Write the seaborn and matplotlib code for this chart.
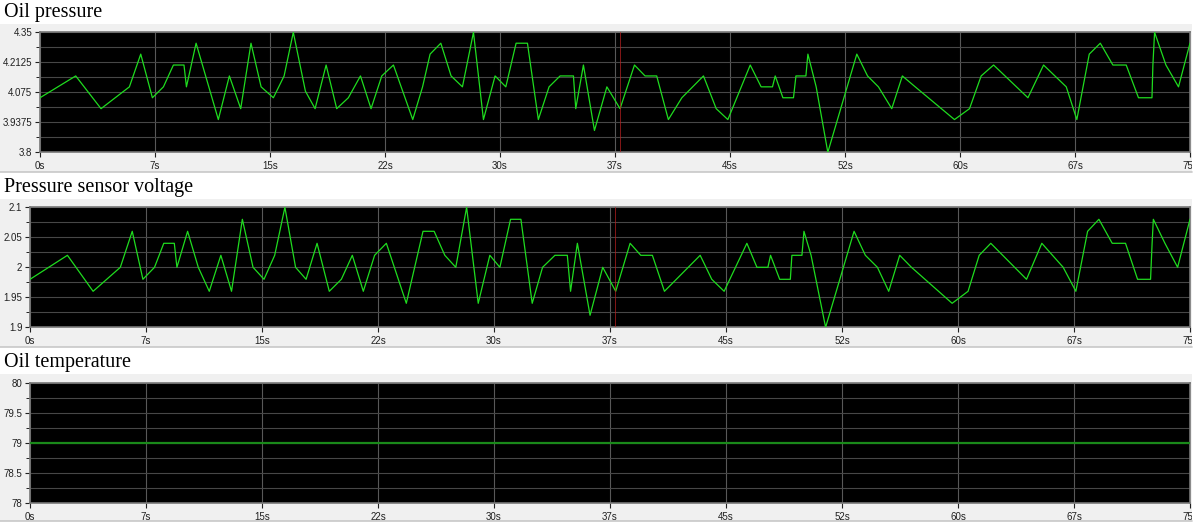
import numpy as np
import pandas as pd
import matplotlib
matplotlib.use("Agg")
import matplotlib.pyplot as plt
import seaborn as sns
from matplotlib.patches import Rectangle
from matplotlib.lines import Line2D
from matplotlib.transforms import Bbox, TransformedBbox

# ---- data ----
press_time = [
    0.00, 2.33, 3.98, 5.83, 6.57, 7.33, 8.05, 8.70, 9.39, 9.55,
    10.18, 11.63, 12.35, 13.09, 13.76, 14.42, 15.22, 15.92, 16.52, 17.31,
    17.94, 18.66, 19.35, 20.11, 20.90, 21.59, 22.29, 23.05, 24.31, 24.95,
    25.44, 26.14, 26.81, 27.55, 28.27, 28.92, 29.68, 30.38, 31.05, 31.79,
    32.50, 33.20, 33.92, 34.79, 34.94, 35.44, 36.16, 36.97, 37.83, 38.77,
    39.46, 40.22, 40.98, 41.86, 43.27, 44.10, 44.86, 46.32, 47.03, 47.77,
    47.95, 48.45, 49.14, 49.30, 49.95, 50.08, 50.62, 51.38, 53.27, 53.97,
    54.68, 55.55, 56.24, 57.08, 59.64, 60.62, 61.38, 62.19, 64.43, 65.45,
    66.93, 67.62, 68.43, 69.15, 69.97, 70.84, 71.64, 72.52, 72.58, 72.69,
    73.43, 74.25, 75.00,
]
oil_pressure = [
    4.05, 4.15, 4.00, 4.10, 4.25, 4.05, 4.10, 4.20, 4.20, 4.10,
    4.30, 3.95, 4.15, 4.00, 4.30, 4.10, 4.05, 4.15, 4.35, 4.08,
    4.00, 4.20, 4.00, 4.05, 4.15, 4.00, 4.15, 4.20, 3.95, 4.10,
    4.25, 4.30, 4.15, 4.10, 4.35, 3.95, 4.15, 4.10, 4.30, 4.30,
    3.95, 4.10, 4.15, 4.15, 4.00, 4.20, 3.90, 4.10, 4.00, 4.20,
    4.15, 4.15, 3.95, 4.05, 4.15, 4.00, 3.95, 4.20, 4.10, 4.10,
    4.15, 4.05, 4.05, 4.15, 4.15, 4.25, 4.10, 3.80, 4.25, 4.15,
    4.10, 4.00, 4.15, 4.10, 3.95, 4.00, 4.15, 4.20, 4.05, 4.20,
    4.10, 3.95, 4.25, 4.30, 4.20, 4.20, 4.05, 4.05, 4.20, 4.35,
    4.20, 4.10, 4.30,
]

volt_time = [
    0.00, 2.42, 4.08, 5.84, 6.61, 7.30, 8.05, 8.65, 9.33, 9.50,
    10.19, 10.88, 11.59, 12.34, 13.03, 13.73, 14.42, 15.13, 15.82, 16.48,
    17.17, 17.85, 18.56, 19.35, 20.13, 20.84, 21.55, 22.28, 23.04, 24.33,
    25.41, 26.13, 26.82, 27.53, 28.23, 28.98, 29.73, 30.38, 31.07, 31.74,
    32.47, 33.14, 33.94, 34.74, 34.95, 35.39, 36.21, 37.03, 37.87, 38.80,
    39.49, 40.24, 41.02, 43.33, 44.08, 44.88, 46.35, 47.00, 47.71, 47.88,
    48.47, 49.16, 49.26, 49.91, 50.04, 50.50, 51.44, 53.28, 54.01, 54.79,
    55.52, 56.23, 56.99, 59.62, 60.65, 61.37, 62.12, 64.43, 65.42, 66.80,
    67.62, 68.38, 69.11, 69.97, 70.83, 71.61, 72.45, 72.55, 72.63, 73.38,
    74.20, 75.00,
]
sensor_voltage = [
    1.98, 2.02, 1.96, 2.00, 2.06, 1.98, 2.00, 2.04, 2.04, 2.00,
    2.06, 2.00, 1.96, 2.02, 1.96, 2.08, 2.00, 1.98, 2.02, 2.10,
    2.00, 1.98, 2.04, 1.96, 1.98, 2.02, 1.96, 2.02, 2.04, 1.94,
    2.06, 2.06, 2.02, 2.00, 2.10, 1.94, 2.02, 2.00, 2.08, 2.08,
    1.94, 2.00, 2.02, 2.02, 1.96, 2.04, 1.92, 2.00, 1.96, 2.04,
    2.02, 2.02, 1.96, 2.02, 1.98, 1.96, 2.04, 2.00, 2.00, 2.02,
    1.98, 1.98, 2.02, 2.02, 2.06, 2.02, 1.90, 2.06, 2.02, 2.00,
    1.96, 2.02, 2.00, 1.94, 1.96, 2.02, 2.04, 1.98, 2.04, 2.00,
    1.96, 2.06, 2.08, 2.04, 2.04, 1.98, 1.98, 2.04, 2.08, 2.04,
    2.00, 2.08,
]

temp_time = [0.0, 75.0]
oil_temperature = [79.0, 79.0]

cursor_time = 37.8

x_tick_values = [0, 7.5, 15, 22.5, 30, 37.5, 45, 52.5, 60, 67.5, 75]
x_tick_labels = ["0s", "7s", "15s", "22s", "30s", "37s", "45s", "52s", "60s", "67s", "75s"]

press_ticks = [3.8, 3.9375, 4.075, 4.2125, 4.35]
press_labels = ["3.8", "3.9375", "4.075", "4.2125", "4.35"]
volt_ticks = [1.9, 1.95, 2.0, 2.05, 2.1]
volt_labels = ["1.9", "1.95", "2", "2.05", "2.1"]
temp_ticks = [78, 78.5, 79, 79.5, 80]
temp_labels = ["78", "78.5", "79", "79.5", "80"]

# ---- figure ----
sns.set_theme(style="dark")
plt.rcParams["font.family"] = ["Liberation Sans", "DejaVu Sans"]

W, H = 1199, 528
fig = plt.figure(figsize=(W / 100, H / 100), dpi=100)
fig.patch.set_facecolor("white")


def band(y0, y1):
    fig.add_artist(Rectangle((0, 1 - y1 / H), 1192 / W, (y1 - y0) / H,
                             transform=fig.transFigure, facecolor="#f0f0f0",
                             edgecolor="none", zorder=0))
    fig.add_artist(Line2D([0, 1192 / W], [1 - y1 / H, 1 - y1 / H],
                          transform=fig.transFigure, color="#c8c8c8", lw=1.2, zorder=1))


def px_axes(x0, y0, x1, y1):
    return fig.add_axes([x0 / W, 1 - y1 / H, (x1 - x0) / W, (y1 - y0) / H])


panels = [
    dict(title="Oil pressure", ty=17, band=(24, 172), box=(40, 32.3, 1190, 152.3),
         df=pd.DataFrame({"t": press_time, "v": oil_pressure}),
         ylim=(3.8, 4.35), ticks=press_ticks, labels=press_labels,
         color="#1fdc1f", lw=0.9, cursor=True),
    dict(title="Pressure sensor voltage", ty=192, band=(199, 347), box=(30, 207.3, 1190, 327.3),
         df=pd.DataFrame({"t": volt_time, "v": sensor_voltage}),
         ylim=(1.9, 2.1), ticks=volt_ticks, labels=volt_labels,
         color="#1fdc1f", lw=0.9, cursor=True),
    dict(title="Oil temperature", ty=367, band=(374, 521), box=(30, 382.7, 1190, 503.3),
         df=pd.DataFrame({"t": temp_time, "v": oil_temperature}),
         ylim=(78, 80), ticks=temp_ticks, labels=temp_labels,
         color="#1a8a1a", lw=1.6, cursor=False),
]

clip = TransformedBbox(Bbox([[0, 0], [1192 / W, 1]]), fig.transFigure)

for p in panels:
    band(*p["band"])
    fig.text(4 / W, 1 - p["ty"] / H, p["title"], family=["Liberation Serif", "DejaVu Serif"],
             fontsize=14.5, va="baseline", ha="left", color="black")

    ax = px_axes(*p["box"])
    ax.set_facecolor("black")
    sns.lineplot(data=p["df"], x="t", y="v", ax=ax, color=p["color"], lw=p["lw"],
                 estimator=None, zorder=4)
    if p["cursor"]:
        ax.axvline(cursor_time, color="#b52020", lw=0.6, alpha=0.85, zorder=5)

    ax.set_xlim(0, 75)
    ax.set_ylim(*p["ylim"])
    ax.set_xticks(x_tick_values)
    ax.set_xticklabels(x_tick_labels)
    ax.set_yticks(p["ticks"])
    ax.set_yticklabels(p["labels"])
    mids = [(a + b) / 2 for a, b in zip(p["ticks"][:-1], p["ticks"][1:])]
    ax.set_yticks(mids, minor=True)
    ax.set_xlabel("")
    ax.set_ylabel("")

    ax.grid(False)
    ax.grid(True, which="both", axis="y", color="#474747", lw=0.8)
    ax.grid(True, which="major", axis="x", color="#585858", lw=0.8)
    ax.set_axisbelow(True)

    ax.tick_params(axis="both", which="major", bottom=True, left=True, direction="out",
                   length=3.5, width=0.8, colors="#202020", labelsize=7, pad=2)
    ax.tick_params(axis="y", which="minor", left=True, direction="out",
                   length=3, width=0.7, colors="#202020")
    ax.tick_params(axis="x", pad=3)

    for s in ax.spines.values():
        s.set_color("#777777")
        s.set_linewidth(1.2)

    for tick in ax.xaxis.get_major_ticks():
        tick.label1.set_clip_box(clip)
        tick.label1.set_clip_on(True)

fig.savefig("out.png", dpi=100, facecolor="white")
